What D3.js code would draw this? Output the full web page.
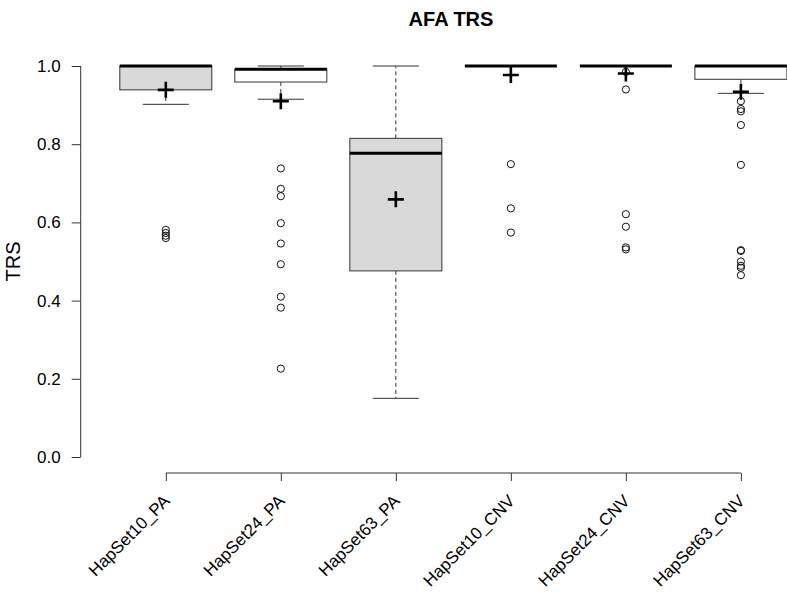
<!DOCTYPE html>
<html><head><meta charset="utf-8">
<script src="https://cdn.jsdelivr.net/npm/d3@7"></script>
<style>body{margin:0;background:#fff}svg{display:block}text{font-family:"Liberation Sans",Arial,Helvetica,sans-serif}</style>
</head><body><svg id="c" width="787" height="595"></svg>
<script>
const categories = ["HapSet10_PA","HapSet24_PA","HapSet63_PA","HapSet10_CNV","HapSet24_CNV","HapSet63_CNV"];
const whiskerLow  = [0.902, 0.915, 0.150, 1.000, 1.000, 0.930];
const q1          = [0.939, 0.959, 0.476, 1.000, 1.000, 0.966];
const medians     = [1.000, 0.992, 0.777, 1.000, 1.000, 1.000];
const q3          = [1.000, 0.992, 0.815, 1.000, 1.000, 1.000];
const whiskerHigh = [1.000, 1.000, 1.000, 1.000, 1.000, 1.000];
const means       = [0.939, 0.910, 0.659, 0.977, 0.981, 0.934];
const filled      = [true, false, true, false, false, false];
const outliers = [
  [0.581, 0.573, 0.566, 0.560],
  [0.738, 0.686, 0.667, 0.598, 0.546, 0.493, 0.410, 0.382, 0.226],
  [],
  [0.749, 0.636, 0.574],
  [0.985, 0.940, 0.621, 0.589, 0.536, 0.531],
  [0.910, 0.890, 0.884, 0.849, 0.747, 0.529, 0.527, 0.500, 0.489, 0.484, 0.465]
];
const yTicks = [0, 0.2, 0.4, 0.6, 0.8, 1.0];
const title = "AFA TRS";
const yLabel = "TRS";

const svg = d3.select("#c");
const x = d3.scaleLinear().domain([0.26, 6.74]).range([80.7, 826]);
const y = d3.scaleLinear().domain([0, 1]).range([457, 66]);
const xBottom = 473;
const hw = 0.4, cw = 0.2;
const line = "#333";

const ya = svg.append("g").attr("transform","translate(80.7,0)")
  .call(d3.axisLeft(y).tickValues(yTicks).tickFormat(d3.format(".1f")).tickSize(9).tickPadding(11));
ya.select(".domain").attr("stroke",line).attr("d","M-0,"+y(0)+"V"+y(1));
ya.selectAll(".tick line").attr("stroke",line);
ya.selectAll("text").attr("font-size",17).attr("fill","#000").attr("font-family","Liberation Sans, Arial, sans-serif");

const xa = svg.append("g").attr("transform","translate(0,"+xBottom+")")
  .call(d3.axisBottom(x).tickValues(d3.range(1,7)).tickFormat("").tickSize(8));
xa.select(".domain").attr("stroke",line).attr("d","M"+x(1)+",0H"+x(6));
xa.selectAll(".tick line").attr("stroke",line);

categories.forEach((c,i)=>{
  const cx = x(i+1);
  svg.append("text").attr("font-size",17).attr("text-anchor","end")
    .attr("transform","translate("+(cx+5)+","+(xBottom+29)+") rotate(-45)")
    .text(c);
});

const g = svg.append("g");
categories.forEach((c,i)=>{
  const k = i+1;
  [[q3[i], whiskerHigh[i]], [q1[i], whiskerLow[i]]].forEach(([a,b])=>{
    if (a !== b) {
      g.append("line").attr("x1",x(k)).attr("x2",x(k)).attr("y1",y(a)).attr("y2",y(b))
        .attr("stroke",line).attr("stroke-dasharray","4,3");
    }
    g.append("line").attr("x1",x(k-cw)).attr("x2",x(k+cw)).attr("y1",y(b)).attr("y2",y(b))
      .attr("stroke",line);
  });
  g.append("rect").attr("x",x(k-hw)).attr("width",x(k+hw)-x(k-hw))
    .attr("y",y(q3[i])).attr("height",Math.max(0,y(q1[i])-y(q3[i])))
    .attr("fill",filled[i]?"#d9d9d9":"#fff").attr("stroke",line);
  g.append("line").attr("x1",x(k-hw)).attr("x2",x(k+hw)).attr("y1",y(medians[i])).attr("y2",y(medians[i]))
    .attr("stroke","#000").attr("stroke-width",3);
  g.selectAll(null).data(outliers[i]).enter().append("circle")
    .attr("cx",x(k)).attr("cy",d=>y(d)).attr("r",3.6)
    .attr("fill","none").attr("stroke","#111").attr("stroke-width",1);
  const my = y(means[i]);
  g.append("path").attr("d","M"+(x(k)-8)+","+my+"H"+(x(k)+8)+"M"+x(k)+","+(my-8)+"V"+(my+8))
    .attr("stroke","#000").attr("stroke-width",2.6);
});

svg.append("text").attr("x",451).attr("y",26).attr("text-anchor","middle")
  .attr("font-size",20).attr("font-weight","bold").text(title);
svg.append("text").attr("transform","translate(20,"+((y(0)+y(1))/2)+") rotate(-90)")
  .attr("text-anchor","middle").attr("font-size",20).text(yLabel);
</script></body></html>
